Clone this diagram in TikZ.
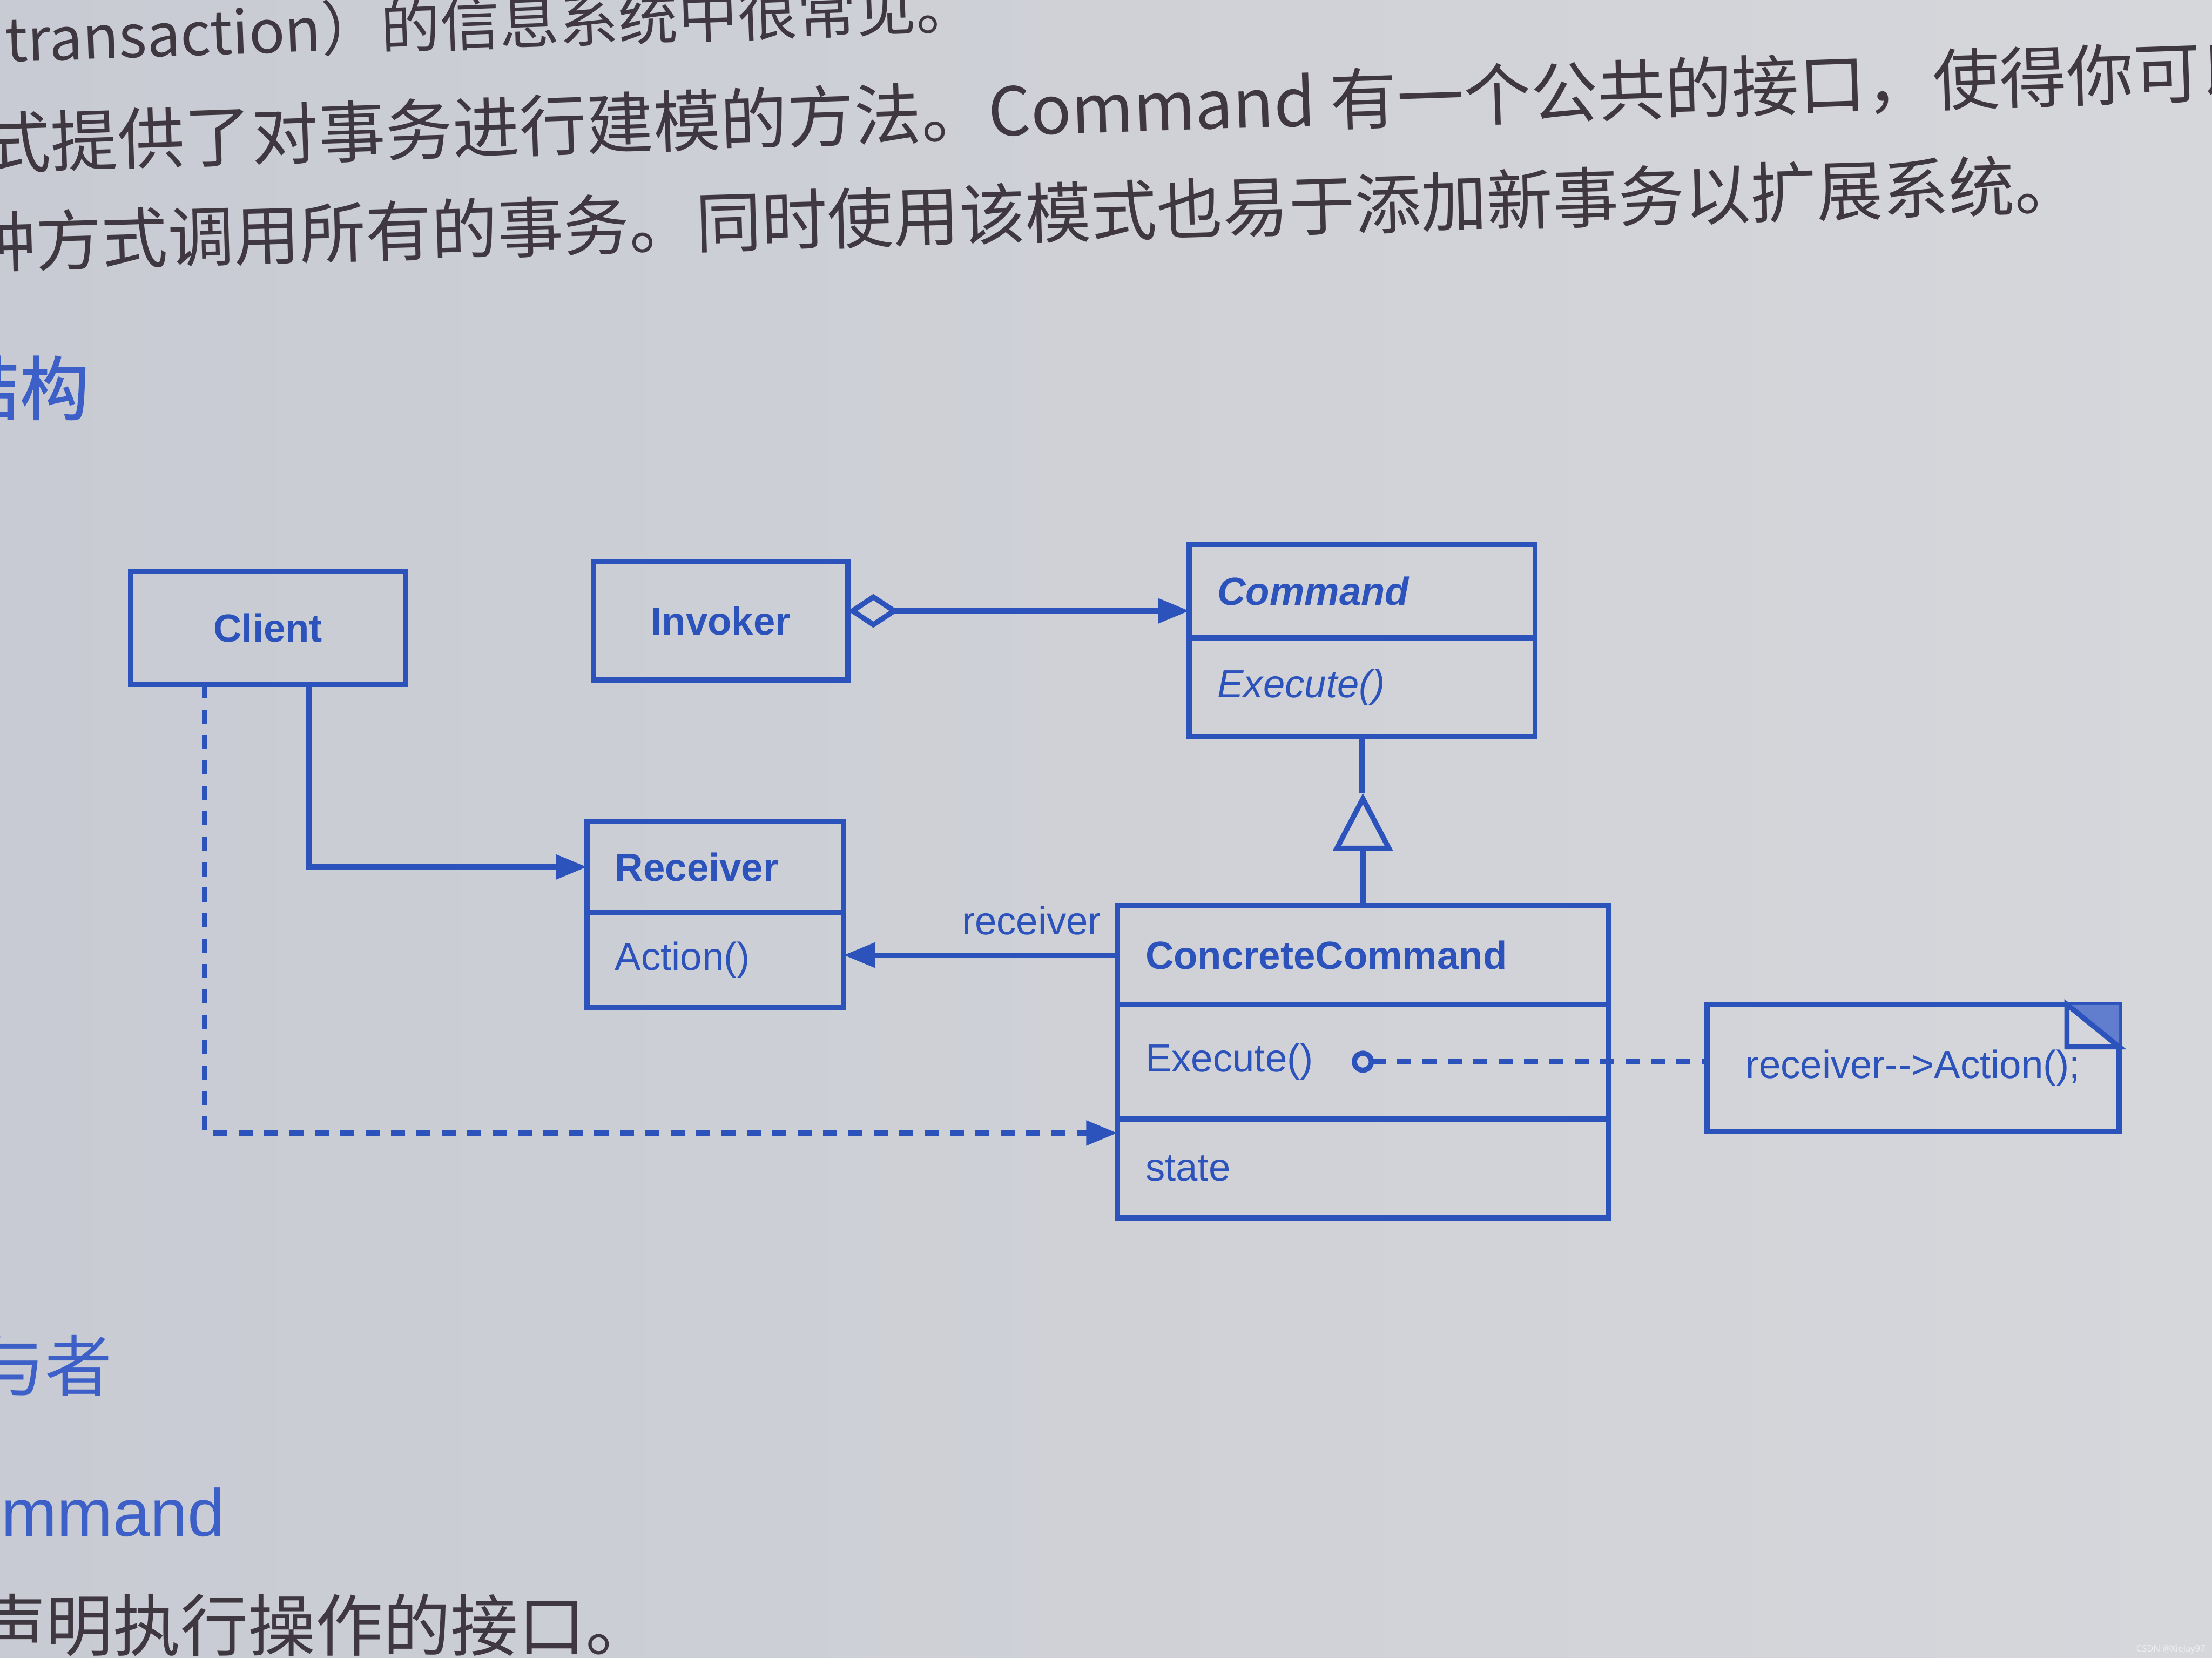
\documentclass[tikz,border=0pt]{standalone}
\usepackage{fontspec}
\usetikzlibrary{arrows.meta}

\newfontfamily\umlfont{Liberation Sans}
\newfontfamily\markfont{Noto Sans}
\newfontfamily\cjk{Noto Sans CJK SC}
\newfontfamily\cjkhead[FakeBold=1.2]{Noto Sans CJK SC}

\definecolor{ink}{RGB}{44,82,188}
\definecolor{headblue}{RGB}{60,96,200}
\definecolor{paper}{RGB}{200,203,211}
\definecolor{paperlight}{RGB}{214,215,219}
\definecolor{printgray}{RGB}{64,56,64}

\tikzset{
  umltext/.style={font=\umlfont\fontsize{7.9}{9.5}\selectfont},
  classbox/.style={draw=ink, line width=1.05pt, text=ink, umltext, inner sep=0pt, outer sep=0pt},
  compart/.style={classbox, anchor=north west, inner xsep=0.2cm, align=left},
  conn/.style={draw=ink, line width=1.05pt},
  dashline/.style={dash pattern=on 0.1cm off 0.08cm},
  bodytext/.style={text=printgray, inner sep=0pt, anchor=west},
  headtext/.style={text=headblue, inner sep=0pt, anchor=east},
}

\begin{document}
\begin{tikzpicture}[x=0.01cm, y=-0.01cm, >={Triangle[length=0.22cm,width=0.17cm]}]

  % --- page ---
  \useasboundingbox (0,0) rectangle (1568,1175);
  \clip (0,0) rectangle (1568,1175);
  \shade[left color=paper, right color=paperlight] (0,0) rectangle (1568,1175);

  % --- text of the page ---
  \node[bodytext, rotate=2.0, font=\cjk\fontsize{12}{14}\selectfont] (lineA) at (3,28)
    {transaction）的信息系统中很常见。};
  \node[bodytext, rotate=1.85, font=\cjk\fontsize{13.5}{15}\selectfont] (lineB) at (-12,102)
    {式提供了对事务进行建模的方法。Command 有一个公共的接口，使得你可以};
  \node[bodytext, rotate=1.6, font=\cjk\fontsize{13.3}{15}\selectfont] (lineC) at (-22,172)
    {种方式调用所有的事务。同时使用该模式也易于添加新事务以扩展系统。};
  \node[headtext, font=\cjkhead\fontsize{14}{16}\selectfont] (headA) at (64,275) {结构};
  \node[headtext, font=\cjk\fontsize{13.5}{15}\selectfont] (headB) at (80,968) {参与者};
  \node[headtext, font=\umlfont\fontsize{13.5}{15}\selectfont] (headC) at (160,1072) {Command};
  \node[bodytext, font=\cjk\fontsize{13.6}{15}\selectfont] (lineD) at (-16,1152)
    {声明执行操作的接口。};

  % --- classes ---
  \node[classbox, minimum width=1.95cm, minimum height=0.80cm] (client) at (190,445) {\bfseries Client};
  \node[classbox, minimum width=1.80cm, minimum height=0.84cm] (invoker) at (511,440) {\bfseries Invoker};

  \node[compart, text width=2.05cm, minimum height=0.66cm] (cmdName) at (843,386) {\bfseries\itshape Command};
  \node[compart, text width=2.05cm, minimum height=0.70cm] (cmdMethod) at (cmdName.south west) {\itshape Execute()};

  \node[compart, text width=1.42cm, minimum height=0.65cm] (rcvName) at (416,582) {\bfseries Receiver};
  \node[compart, text width=1.42cm, minimum height=0.67cm] (rcvMethod) at (rcvName.south west) {Action()};

  \node[compart, text width=3.08cm, minimum height=0.70cm] (ccName) at (792,642) {\bfseries ConcreteCommand};
  \node[compart, text width=3.08cm, minimum height=0.81cm] (ccMethod) at (ccName.south west) {Execute()};
  \node[compart, text width=3.08cm, minimum height=0.70cm] (ccState) at (ccMethod.south west) {state};

  % note with folded corner
  \node[classbox, draw=none, anchor=north west, minimum width=2.92cm, minimum height=0.90cm] (note) at (1210,712) {receiver-->Action();};
  \draw[conn] (note.north west) rectangle (note.south east);
  \fill[ink!75] ([xshift=-0.37cm]note.north east) -- (note.north east) -- ([yshift=-0.30cm]note.north east) -- cycle;
  \draw[conn] ([xshift=-0.37cm]note.north east) -- ([xshift=-0.37cm,yshift=-0.30cm]note.north east)
    -- ([yshift=-0.30cm]note.north east) -- cycle;

  % --- connectors ---
  % Invoker <>-- Command
  \draw[conn, {Diamond[open,length=0.36cm,width=0.24cm]}->] ([yshift=0.07cm]invoker.east) -- ([yshift=0.07cm]invoker.east -| cmdName.west);

  % ConcreteCommand --|> Command
  \coordinate (inhTip) at ([yshift=-0.40cm]cmdMethod.south);
  \draw[conn] (cmdMethod.south) -- (inhTip);
  \draw[conn, -{Triangle[open,length=0.41cm,width=0.42cm]}] (ccName.north) -- (ccName.north |- inhTip);

  % Client --> Receiver
  \draw[conn, ->] ([xshift=0.29cm]client.south) |- (rcvName.west);

  % Client - - > ConcreteCommand
  \draw[conn, dashline, ->] ([xshift=-0.45cm]client.south) |- ([yshift=-0.10cm]ccState.north west);

  % ConcreteCommand --> Receiver
  \draw[conn, ->] (ccName.west) -- (ccName.west -| rcvMethod.east)
    node[pos=0, anchor=south east, text=ink, umltext, inner sep=1pt, xshift=-0.06cm, yshift=0.09cm] (rcvLabel) {receiver};

  % Execute() o- - - note
  \coordinate (execDot) at ([xshift=1.74cm]ccMethod.west);
  \draw[conn] (execDot) circle (0.06cm);
  \draw[conn, dashline] ([xshift=0.06cm]execDot) -- (execDot -| note.west);

  % --- watermark ---
  \node[anchor=south east, inner sep=0pt, text=white!88!gray, font=\markfont\fontsize{1.8}{2}\selectfont] (mark) at (1564,1173) {CSDN @XieJay97};

\end{tikzpicture}
\end{document}
